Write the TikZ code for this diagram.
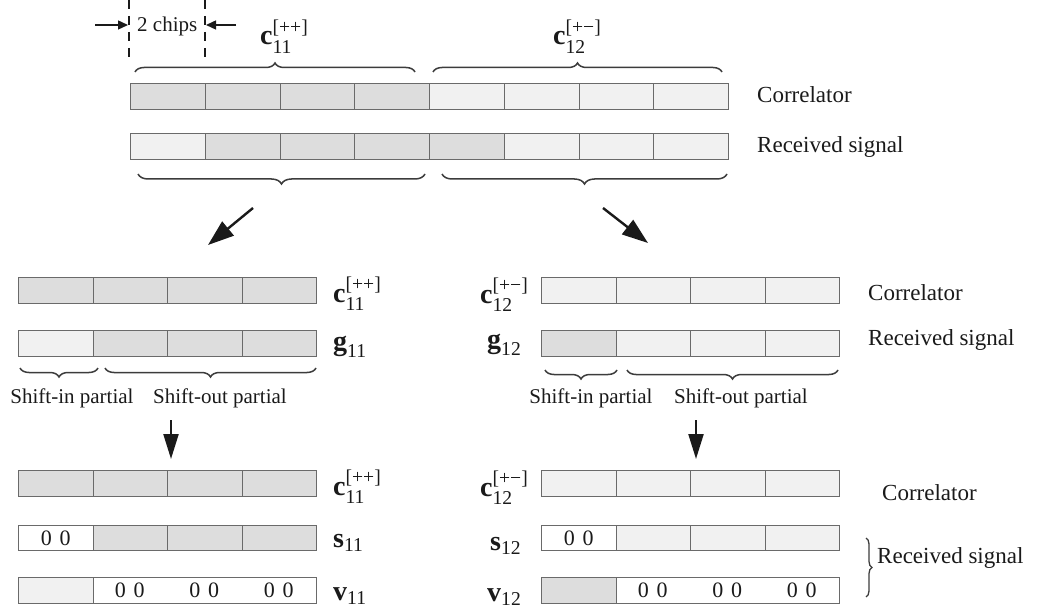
\documentclass[tikz,border=0pt]{standalone}
\usepackage{fontspec}
\usepackage{amsmath}
\setmainfont{Liberation Serif}
\usetikzlibrary{arrows.meta,decorations.pathreplacing}
\definecolor{dk}{HTML}{DDDDDD}
\definecolor{lt}{HTML}{F1F1F1}
\definecolor{edge}{HTML}{6A6A6A}
\definecolor{ink}{HTML}{1A1A1A}
\begin{document}
\begin{tikzpicture}[x=1pt,y=-1pt,
 cell/.style={draw=edge,line width=1.1pt,anchor=north west,inner sep=0pt,minimum height=26pt},
 lab/.style={font=\fontsize{23}{27}\selectfont,anchor=base west,inner sep=0pt,text=ink},
 vlab/.style={font=\fontsize{28}{30}\selectfont,anchor=base west,inner sep=0pt,text=ink},
 small/.style={font=\fontsize{21}{24}\selectfont,anchor=base,inner sep=0pt,text=ink},
 zz/.style={font=\fontsize{22}{24}\selectfont,inner sep=0pt,text=ink},
 brc/.style={decorate,decoration={brace,amplitude=9pt},line width=1.5pt,draw=ink!85},
 bigarrow/.style={line width=2.4pt,draw=ink,-{Triangle[length=26pt,width=18pt]}},
 downarrow/.style={line width=2.2pt,draw=ink,-{Triangle[length=25pt,width=15pt]}},
 smallarrow/.style={line width=1.4pt,draw=ink,-{Triangle[length=10pt,width=9pt]}},
 dashline/.style={line width=2pt,draw=ink,dash pattern=on 9pt off 7pt},
 ]
\useasboundingbox (0,0) rectangle (1038,612);
\fill[white] (0,0) rectangle (1038,612);

% ---------- top: 2 chips ----------
\coordinate (d1t) at (129,0); \coordinate (d1b) at (129,58);
\coordinate (d2t) at (205,0); \coordinate (d2b) at (205,58);
\draw[dashline] (d1t) -- (d1b);
\draw[dashline] (d2t) -- (d2b);
\coordinate (a1s) at (95,25); \coordinate (a1e) at (128,25);
\coordinate (a2s) at (236,25); \coordinate (a2e) at (206,25);
\draw[smallarrow] (a1s) -- (a1e);
\draw[smallarrow] (a2s) -- (a2e);
\node[font=\fontsize{21}{24}\selectfont,anchor=base west,inner sep=0pt,text=ink] (chips) at (137,32) {2 chips};

% ---------- top bars ----------
\foreach \f [count=\i from 0] in {dk,dk,dk,dk,lt,lt,lt,lt}
  \node[cell,fill=\f,minimum width=74.75pt] (tc\i) at ({130+74.75*\i},83) {};
\foreach \f [count=\i from 0] in {lt,dk,dk,dk,dk,lt,lt,lt}
  \node[cell,fill=\f,minimum width=74.75pt] (tr\i) at ({130+74.75*\i},133) {};
\node[lab] (tcorr) at (757,103) {Correlator};
\node[lab] (trec) at (757,153) {Received signal};

\draw[brc] (135,72) -- (415,72);
\draw[brc] (433,72) -- (722,72);
\draw[brc,decoration={amplitude=10pt}] (425,174) -- (138,174);
\draw[brc,decoration={amplitude=10pt}] (727,174) -- (442,174);
\node[vlab] (tl1) at (260,45) {$\textbf{c}_{\text{11}}^{\text{[++]}}$};
\node[vlab] (tl2) at (553,45) {$\textbf{c}_{\text{12}}^{\text{[+−]}}$};

% ---------- diagonal arrows ----------
\coordinate (ga1) at (253,208); \coordinate (ga2) at (208,245);
\coordinate (gb1) at (603,208); \coordinate (gb2) at (648,243);
\draw[bigarrow] (ga1) -- (ga2);
\draw[bigarrow] (gb1) -- (gb2);

% ---------- middle left ----------
\foreach \f [count=\i from 0] in {dk,dk,dk,dk}
  \node[cell,fill=\f,minimum width=74.5pt] (mlc\i) at ({18+74.5*\i},277) {};
\foreach \f [count=\i from 0] in {lt,dk,dk,dk}
  \node[cell,fill=\f,minimum width=74.5pt] (mlg\i) at ({18+74.5*\i},330) {};
\node[vlab] (mll1) at (333,302) {$\textbf{c}_{\text{11}}^{\text{[++]}}$};
\node[vlab] (mll2) at (333,350) {$\textbf{g}_{\text{11}}$};
\draw[brc,decoration={amplitude=9pt}] (98,368) -- (20,368);
\draw[brc,decoration={amplitude=9pt}] (316,368) -- (105,368);
\node[small] (mlsi) at (72,403) {Shift-in partial};
\node[small] (mlso) at (220,403) {Shift-out partial};

% ---------- middle right ----------
\foreach \f [count=\i from 0] in {lt,lt,lt,lt}
  \node[cell,fill=\f,minimum width=74.5pt] (mrc\i) at ({541+74.5*\i},277) {};
\foreach \f [count=\i from 0] in {dk,lt,lt,lt}
  \node[cell,fill=\f,minimum width=74.5pt] (mrg\i) at ({541+74.5*\i},330) {};
\node[vlab] (mrl1) at (480,303) {$\textbf{c}_{\text{12}}^{\text{[+−]}}$};
\node[vlab] (mrl2) at (487,348) {$\textbf{g}_{\text{12}}$};
\node[lab] (mcorr) at (868,300) {Correlator};
\node[lab] (mrec) at (868,345) {Received signal};
\draw[brc,decoration={amplitude=9pt}] (617,370) -- (545,370);
\draw[brc,decoration={amplitude=9pt}] (838,370) -- (627,370);
\node[small] (mrsi) at (591,403) {Shift-in partial};
\node[small] (mrso) at (741,403) {Shift-out partial};

% ---------- down arrows ----------
\coordinate (da1) at (171,420); \coordinate (da2) at (171,459);
\coordinate (db1) at (696,420); \coordinate (db2) at (696,459);
\draw[downarrow] (da1) -- (da2);
\draw[downarrow] (db1) -- (db2);

% ---------- bottom left ----------
\foreach \f [count=\i from 0] in {dk,dk,dk,dk}
  \node[cell,fill=\f,minimum width=74.5pt] (blc\i) at ({18+74.5*\i},470) {};
\foreach \f [count=\i from 0] in {white,dk,dk,dk}
  \node[cell,fill=\f,minimum width=74.5pt,minimum height=25pt] (bls\i) at ({18+74.5*\i},525) {};
\node[cell,fill=lt,minimum width=74.5pt] (blv0) at (18,577) {};
\node[cell,fill=white,minimum width=223.5pt] (blv1) at (92.5,577) {};
\node[zz] (bls0t) at (bls0.center) {0\hspace{0.35em}0};
\foreach \k in {0,1,2}
  \node[zz] (blvz\k) at ({129.75+74.5*\k},590) {0\hspace{0.35em}0};
\node[vlab] (bll1) at (333,495) {$\textbf{c}_{\text{11}}^{\text{[++]}}$};
\node[vlab] (bll2) at (333,547) {$\textbf{s}_{\text{11}}$};
\node[vlab] (bll3) at (333,600) {$\textbf{v}_{\text{11}}$};

% ---------- bottom right ----------
\foreach \f [count=\i from 0] in {lt,lt,lt,lt}
  \node[cell,fill=\f,minimum width=74.5pt] (brc\i) at ({541+74.5*\i},470) {};
\foreach \f [count=\i from 0] in {white,lt,lt,lt}
  \node[cell,fill=\f,minimum width=74.5pt,minimum height=25pt] (brs\i) at ({541+74.5*\i},525) {};
\node[cell,fill=dk,minimum width=74.5pt] (brv0) at (541,577) {};
\node[cell,fill=white,minimum width=223.5pt] (brv1) at (615.5,577) {};
\node[zz] (brs0t) at (brs0.center) {0\hspace{0.35em}0};
\foreach \k in {0,1,2}
  \node[zz] (brvz\k) at ({652.75+74.5*\k},590) {0\hspace{0.35em}0};
\node[vlab] (brl1) at (480,496) {$\textbf{c}_{\text{12}}^{\text{[+−]}}$};
\node[vlab] (brl2) at (490,550) {$\textbf{s}_{\text{12}}$};
\node[vlab] (brl3) at (487,601) {$\textbf{v}_{\text{12}}$};
\node[lab] (bcorr) at (882,500) {Correlator};
\draw[brc,decoration={amplitude=6pt},line width=1.3pt] (866,538) -- (866,597);
\node[lab] (brec) at (877,563) {Received signal};
\end{tikzpicture}
\end{document}
